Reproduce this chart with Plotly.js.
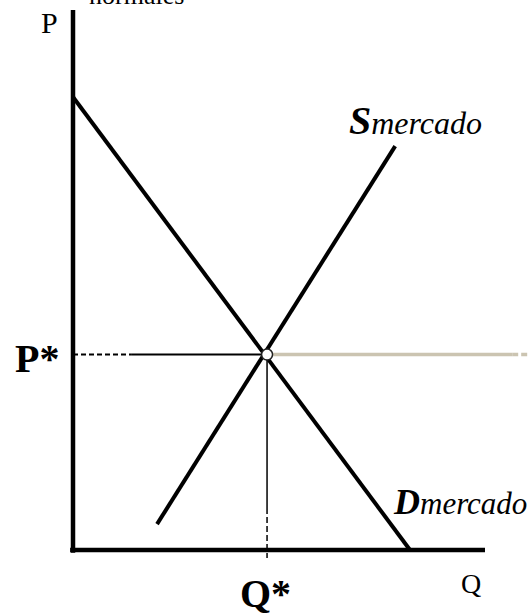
<!DOCTYPE html>
<html>
<head>
<meta charset="utf-8">
<script src="https://cdn.plot.ly/plotly-3.0.1.min.js"></script>
<style>html,body{margin:0;padding:0;background:#fff;}#chart{width:530px;height:616px;}</style>
</head>
<body>
<div id="chart"></div>
<script>
// ---- data (Q = quantity, P = price, arbitrary units) ----
var axisQ = [0, 10];          // horizontal axis extent
var axisP = [0, 10];          // vertical axis extent
var demandQ = [0, 8.18];
var demandP = [8.39, 0];
var supplyQ = [2.04, 7.82];
var supplyP = [0.48, 7.48];
var eqQ = 4.71;               // Q*
var eqP = 3.62;               // P*
var guideDashEndQ = 1.43;     // where the P* guide turns from dashed to solid
var guideDashStartP = 0.78;   // where the Q* guide turns from solid to dashed
var guideBelowAxisP = -0.15;
var greyEndQ = 10.66;
var greyDashEndQ = 11.1;
var labels = {P: 'P', Q: 'Q', Pstar: 'P*', Qstar: 'Q*', top: 'normales', S: 'S', D: 'D', sub: 'mercado'};

var black = '#000000';
var beige = '#cbc4b1';
var serif = '"Liberation Serif", "Times New Roman", serif';

function seg(x, y, color, width, dash) {
  return {type: 'scatter', mode: 'lines', x: x, y: y, hoverinfo: 'skip', showlegend: false,
          line: {color: color, width: width, dash: dash || 'solid'}};
}

var traces = [
  // axes
  seg([axisQ[0] - 0.07, axisQ[1]], [0, 0], black, 4.5),
  seg([0, 0], [axisP[0] - 0.05, axisP[1]], black, 4.5),
  // P* guide
  seg([0, guideDashEndQ], [eqP, eqP], black, 2, '5px,3px'),
  seg([guideDashEndQ, eqQ], [eqP, eqP], black, 2),
  seg([eqQ, greyEndQ], [eqP, eqP], beige, 3.5),
  seg([greyEndQ, greyDashEndQ], [eqP, eqP], beige, 3.5, '6px,3px'),
  // Q* guide
  seg([eqQ, eqQ], [eqP, guideDashStartP], black, 1.5),
  seg([eqQ, eqQ], [guideDashStartP, guideBelowAxisP], black, 1.5, '6px,3px'),
  // curves
  seg(demandQ, demandP, black, 4),
  seg(supplyQ, supplyP, black, 4),
  // equilibrium point
  {type: 'scatter', mode: 'markers', x: [eqQ], y: [eqP], hoverinfo: 'skip', showlegend: false,
   marker: {size: 11, color: '#ffffff', line: {color: '#222', width: 1.5}}}
];

var ann = [
  {x: -0.56, y: 9.76, text: labels.P, font: {size: 30, color: black}},
  {x: 136 / 530, y: 1 + 4.5 / 616, xref: 'paper', yref: 'paper', text: labels.top, font: {size: 26, color: black}},
  {x: -0.88, y: 3.55, text: '<b>' + labels.Pstar + '</b>', font: {size: 40, color: black}},
  {x: 4.68, y: -0.8, text: '<b>' + labels.Qstar + '</b>', font: {size: 40, color: black}},
  {x: 9.66, y: -0.62, text: labels.Q, font: {size: 28, color: black}},
  {x: 6.65, y: 7.95, xanchor: 'left', text: '<b><i>' + labels.S + '</i></b><i><span style="font-size:32px">' + labels.sub + '</span></i>', font: {size: 40, color: black}},
  {x: 7.72, y: 0.88, xanchor: 'left', text: '<b><i>' + labels.D + '</i></b><i><span style="font-size:31px">' + labels.sub + '</span></i>', font: {size: 36, color: black}}
].map(function (a) {
  return Object.assign({xref: 'x', yref: 'y', showarrow: false, xanchor: 'center', yanchor: 'middle'}, a,
                       {font: Object.assign({family: serif}, a.font)});
});

var layout = {
  width: 530, height: 616,
  margin: {l: 0, r: 0, t: 0, b: 0},
  paper_bgcolor: '#ffffff', plot_bgcolor: '#ffffff',
  xaxis: {range: [-73 / 41.2, 457 / 41.2], visible: false, fixedrange: true},
  yaxis: {range: [-66 / 54, 550 / 54], visible: false, fixedrange: true},
  annotations: ann,
  showlegend: false
};

Plotly.newPlot('chart', traces, layout, {displayModeBar: false, staticPlot: true});
</script>
</body>
</html>
